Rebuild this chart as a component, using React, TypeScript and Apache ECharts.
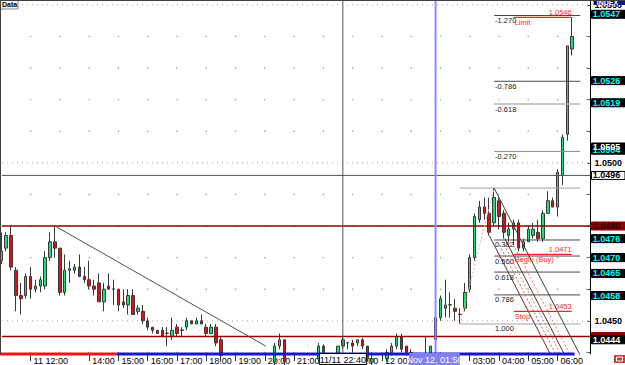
import React, { useEffect, useRef } from 'react';
import * as echarts from 'echarts';

// One candle per 10-minute bar, starting 11 Nov 11:00. [open, close, low, high]
const candles: number[][] = [
  [1.0469, 1.0472, 1.0468, 1.0478], [1.0473, 1.0477, 1.0472, 1.0478], [1.0477, 1.0467, 1.0466, 1.0480],
  [1.0466, 1.0458, 1.0453, 1.0467], [1.0458, 1.0457, 1.0452, 1.0462], [1.0458, 1.0464, 1.0457, 1.0465],
  [1.0464, 1.0460, 1.0457, 1.0467], [1.0460, 1.0461, 1.0459, 1.0463], [1.0461, 1.0463, 1.0459, 1.0464],
  [1.0461, 1.0470, 1.0460, 1.0472], [1.0470, 1.0475, 1.0469, 1.0478], [1.0475, 1.0473, 1.0470, 1.0480],
  [1.0473, 1.0459, 1.0458, 1.0473], [1.0459, 1.0466, 1.0458, 1.0471], [1.0466, 1.04665, 1.0462, 1.0469],
  [1.0466, 1.0467, 1.0465, 1.0468], [1.0467, 1.0464, 1.0464, 1.0471], [1.0464, 1.0463, 1.0462, 1.0467],
  [1.0463, 1.0461, 1.0460, 1.0469], [1.0461, 1.0460, 1.0458, 1.0463], [1.0462, 1.0456, 1.0456, 1.0465],
  [1.0456, 1.0460, 1.0453, 1.0462], [1.0461, 1.0460, 1.0460, 1.0465], [1.0460, 1.04601, 1.0455, 1.0463],
  [1.0460, 1.0455, 1.0453, 1.0460], [1.0456, 1.0455, 1.0454, 1.0460], [1.0455, 1.0458, 1.0452, 1.0460],
  [1.0458, 1.0452, 1.0452, 1.0460], [1.0453, 1.0454, 1.0452, 1.0455], [1.0453, 1.0450, 1.0449, 1.0455],
  [1.0450, 1.0448, 1.0447, 1.0451], [1.0448, 1.0447, 1.0446, 1.0448], [1.0447, 1.0446, 1.0446, 1.0447],
  [1.0447, 1.0445, 1.0445, 1.0448], [1.0446, 1.04461, 1.0442, 1.0448], [1.0445, 1.0447, 1.0444, 1.0451],
  [1.0448, 1.0446, 1.0445, 1.0449], [1.0447, 1.04471, 1.0445, 1.0448], [1.0448, 1.0450, 1.0447, 1.0451],
  [1.0450, 1.0449, 1.0449, 1.0450], [1.0449, 1.0450, 1.0449, 1.0451], [1.0450, 1.0449, 1.0449, 1.0452],
  [1.0448, 1.0446, 1.0445, 1.0449], [1.0446, 1.0448, 1.0446, 1.0449], [1.0448, 1.0443, 1.0442, 1.0449],
  [1.0444, 1.0439, 1.0437, 1.0445], [1.0439, 1.0436, 1.0434, 1.0439], [1.0436, 1.0433, 1.0431, 1.0437],
  [1.0433, 1.0430, 1.0428, 1.0434], [1.0430, 1.0432, 1.0427, 1.0433], [1.0432, 1.0429, 1.0426, 1.0433],
  [1.0429, 1.0431, 1.0427, 1.0433], [1.0431, 1.0434, 1.0430, 1.0436], [1.0434, 1.0436, 1.0433, 1.0438],
  [1.0436, 1.0435, 1.0433, 1.0438], [1.0435, 1.0437, 1.0434, 1.0439], [1.0437, 1.0442, 1.0436, 1.0443],
  [1.0442, 1.0444, 1.0441, 1.0446], [1.0444, 1.0437, 1.0436, 1.0444], [1.0437, 1.0435, 1.0433, 1.0438],
  [1.0435, 1.0436, 1.0433, 1.0438], [1.0436, 1.0434, 1.0432, 1.0437], [1.0434, 1.0435, 1.0432, 1.0437],
  [1.0435, 1.0436, 1.0433, 1.0438], [1.0436, 1.0438, 1.0435, 1.0439], [1.0438, 1.0442, 1.0437, 1.0443],
  [1.0442, 1.0438, 1.0437, 1.04425], [1.0438, 1.0436, 1.0435, 1.0439], [1.0436, 1.0438, 1.0435, 1.0439],
  [1.0438, 1.0442, 1.0437, 1.0442], [1.0442, 1.0444, 1.0441, 1.0445], [1.0443, 1.04431, 1.0441, 1.0443],
  [1.0443, 1.0442, 1.0440, 1.0444], [1.0443, 1.0444, 1.0442, 1.0444], [1.0444, 1.0442, 1.0441, 1.04446],
  [1.0442, 1.0438, 1.0437, 1.0442], [1.0437, 1.0438, 1.0436, 1.0440], [1.0438, 1.0436, 1.0435, 1.0439],
  [1.0436, 1.0437, 1.0434, 1.0439], [1.0438, 1.0440, 1.0437, 1.0441], [1.0440, 1.0442, 1.0439, 1.0443],
  [1.0442, 1.0445, 1.0441, 1.0446], [1.0445, 1.0441, 1.0440, 1.0446], [1.0442, 1.0440, 1.0439, 1.0442],
  [1.0440, 1.0439, 1.0438, 1.0441], [1.0439, 1.0437, 1.0436, 1.0439], [1.0437, 1.0438, 1.0436, 1.0439],
  [1.0438, 1.04381, 1.0437, 1.0445], [1.0438, 1.0442, 1.0437, 1.0442], [1.0444, 1.0451, 1.0444, 1.0452],
  [1.0451, 1.0457, 1.0450, 1.0458], [1.0454, 1.0455, 1.0451, 1.0463], [1.0455, 1.04551, 1.0451, 1.0459],
  [1.0454, 1.0453, 1.0450, 1.0457], [1.0452, 1.04521, 1.0449, 1.0454], [1.0454, 1.0459, 1.0453, 1.0462],
  [1.0460, 1.0470, 1.0459, 1.0471], [1.0470, 1.0483, 1.0469, 1.0484], [1.0482, 1.0486, 1.0481, 1.0488],
  [1.0486, 1.0484, 1.0482, 1.0489], [1.0484, 1.0478, 1.0477, 1.0489], [1.0481, 1.0489, 1.0480, 1.0492],
  [1.0488, 1.0483, 1.0479, 1.0489], [1.0484, 1.0478, 1.0476, 1.0485], [1.0477, 1.0479, 1.0475, 1.0481],
  [1.0479, 1.0481, 1.0474, 1.0482], [1.0481, 1.0473, 1.0472, 1.0482], [1.0473, 1.0475, 1.0472, 1.0476],
  [1.0475, 1.0479, 1.0475, 1.0480], [1.0477, 1.0479, 1.0476, 1.0481], [1.0478, 1.0476, 1.0475, 1.0482],
  [1.0476, 1.0484, 1.0475, 1.0485], [1.0484, 1.0488, 1.0484, 1.0491], [1.0488, 1.0486, 1.0486, 1.0489],
  [1.0486, 1.0497, 1.0483, 1.0498], [1.0496, 1.0508, 1.0493, 1.0509], [1.0509, 1.0537, 1.0507, 1.0537],
  [1.0536, 1.0540, 1.0534, 1.0546],
];

// time axis: bar index -> label
const timeBars = [6, 18, 24, 30, 36, 42, 48, 54, 60, 72, 78, 96, 102, 108, 114];
const timeTexts = ['11 12:00', '14:00', '15:00', '16:00', '17:00', '18:00', '19:00', '20:00', '21:00', '23:00', '12 00:00', '03:00', '04:00', '05:00', '06:00'];

const axisPrices = [1.045, 1.05, 1.055];
const tickPrices = [1.044, 1.045, 1.046, 1.047, 1.048, 1.049, 1.05, 1.051, 1.052, 1.053, 1.054, 1.055];
const dotPrices = [1.044, 1.046, 1.047, 1.048, 1.049, 1.051, 1.052, 1.053, 1.054];
const hourBars = [0, 6, 12, 18, 24, 30, 36, 42, 48, 54, 60, 66, 72, 78, 84, 90, 96, 102, 108, 114, 120];

// Fibonacci retracement
const fibLowBar = 94;
const fibHighBar = 101;
const fibEndBar = 118.65;
const fibLow = 1.0449;
const fibHigh = 1.0492;
const fibLevels = [-1.27, -0.786, -0.618, -0.27, 0, 0.382, 0.5, 0.618, 0.786, 1];
const fibTexts = ['-1.270', '-0.786', '-0.618', '-0.270', '', '0.382', '0.500', '0.618', '0.786', '1.000'];

// pending order levels
const orderPrices = [1.0546, 1.0471, 1.0453];
const orderNames = ['Limit', 'Begin (Buy)', 'Stop'];
const orderStartBar = 105;
const orderEndBar = 116.9;

const supportPrices = [1.048, 1.0445];
const crossBar = 70;
const crossPrice = 1.0496;
const crossText = '11/11 22:40';
const markerBar = 89;
const markerText = 'Nov 12, 01:50';
const trendStart = [11, 1.048];
const trendEnd = [54.2, 1.0442];

// down-sloping channel (bar, price at start)
const channelSlope = -0.0003;
const channelSolid = [[101, 1.0492], [100, 1.0477], [103.2, 1.0476]];
const channelRed = [[101.1, 1.0474], [103.1, 1.0474], [105, 1.0474]];
const channelGray = [[102.1, 1.0474]];

// bottom session strip (from bar, to bar)
const stripRed = [-0.3, 23.6];
const stripBlue = [23.6, 117.5];

// right-hand price tags
const tagPrices = [1.0547, 1.0526, 1.0519, 1.0504, 1.0505, 1.0496, 1.048, 1.0476, 1.047, 1.0465, 1.0458, 1.0445, 1.0444];
const tagKinds = ['cyan', 'cyan', 'cyan', 'cyan', 'white', 'boxed', 'maroon', 'cyan', 'cyan', 'cyan', 'cyan', 'maroon', 'white'];

const xMin = 0.14;
const xMax = 120.75;
const yMin = 1.04395;
const yMax = 1.05512;
const FONT = '"Liberation Sans", Arial, sans-serif';

function seg(data: any[], color: string, width: number, type: any = 'solid', z = 3, clip = true) {
  return {
    type: 'line', data, symbol: 'none', showSymbol: false, silent: true, clip, z,
    lineStyle: { color, width, type }, animation: false,
  };
}

function channelLine(s: number[]) {
  const endP = yMin - 0.0004;
  const endB = s[0] + (endP - s[1]) / channelSlope;
  return [[s[0], s[1]], [endB, endP]];
}

function buildOption(): any {
  const fibPrice = (l: number) => fibHigh - l * (fibHigh - fibLow);
  const series: any[] = [];
  series.push({
    type: 'scatter', silent: true, z: 1, symbolSize: 1.6,
    itemStyle: { color: '#9a9a9a' },
    data: hourBars.flatMap((b) => dotPrices.map((p) => [b, p])),
  });
  axisPrices.forEach((p) => series.push(seg([[xMin, p], [xMax, p]], '#c49a9a', 1, [1, 4], 1)));
  series.push({
    type: 'candlestick', z: 2, clip: true, barWidth: 3,
    encode: { x: 0, y: [1, 2, 3, 4] },
    data: candles.map((c, i) => [i, c[0], c[1], c[2], c[3]]),
    itemStyle: {
      color: '#19e070', color0: '#e01010',
      borderColor: '#3a3a3a', borderColor0: '#3a3a3a', borderColorDoji: '#3a3a3a', borderWidth: 1,
    },
  });
  supportPrices.forEach((p) => series.push(seg([[xMin, p], [xMax, p]], '#9a0000', 1.5)));
  series.push(seg([[xMin, crossPrice], [xMax, crossPrice]], '#555555', 1));
  series.push(seg([[crossBar, yMin], [crossBar, yMax]], '#555555', 1));
  series.push(seg([[markerBar, yMin], [markerBar, yMax]], '#8c8cff', 2));
  series.push(seg([trendStart, trendEnd], '#505050', 1));
  fibLevels.forEach((l) => {
    const p = fibPrice(l);
    const anchor = l === 0 || l === 1;
    const start = anchor ? fibLowBar : fibHighBar;
    const color = anchor ? '#a0a0a0' : l === -0.618 ? '#b4b4b4' : l === -0.27 ? '#8a8a8a' : '#4a4a4a';
    series.push(seg([[start, p], [fibEndBar, p]], color, l === -0.618 ? 1.5 : 1));
  });
  series.push(seg([[fibLowBar, fibLow], [fibHighBar, fibHigh]], '#e8a8a8', 1, [2, 2]));
  orderPrices.forEach((p) => series.push(seg([[orderStartBar, p], [orderEndBar, p]], '#ff2020', 1.3, 'solid', 4)));
  channelSolid.forEach((s) => series.push(seg(channelLine(s), '#3c3c3c', 1)));
  channelRed.forEach((s) => series.push(seg(channelLine(s), '#ff6a6a', 1, [2, 2])));
  channelGray.forEach((s) => series.push(seg(channelLine(s), '#7a7a7a', 1, [2, 2])));
  series.push(seg([[stripRed[0], yMin], [stripRed[1], yMin]], '#ee1515', 3, 'solid', 6, false));
  series.push(seg([[stripBlue[0], yMin], [stripBlue[1], yMin]], '#1818c8', 3, 'solid', 6, false));

  return {
    animation: false,
    backgroundColor: '#ffffff',
    grid: { left: 2, right: 32, top: 1, bottom: 10 },
    xAxis: {
      type: 'value', min: xMin, max: xMax,
      axisLine: { show: false },
      splitLine: { show: false },
      axisTick: { show: true, customValues: timeBars, length: 7, lineStyle: { color: '#333' } },
      axisLabel: {
        customValues: timeBars,
        formatter: (v: number) => {
          const k = timeBars.indexOf(Math.round(v));
          return k >= 0 ? timeTexts[k] : '';
        },
        align: 'left', padding: [0, 0, 0, 3], margin: 2,
        fontSize: 9, color: '#000', fontFamily: FONT,
      },
    },
    yAxis: {
      type: 'value', position: 'right', min: yMin, max: yMax,
      axisLine: { show: true, lineStyle: { color: '#000', width: 1 } },
      axisTick: { show: true, inside: true, length: 3, customValues: tickPrices, lineStyle: { color: '#444' } },
      splitLine: { show: false },
      axisLabel: {
        customValues: axisPrices,
        formatter: (v: number) => v.toFixed(4),
        fontSize: 9, fontWeight: 'bold', color: '#000', margin: 4, fontFamily: FONT,
      },
    },
    series,
  };
}

function buildGraphics(chart: any): any[] {
  const px = (b: number, p: number) => chart.convertToPixel({ gridIndex: 0 }, [b, p]);
  const g: any[] = [];
  const fibPrice = (l: number) => fibHigh - l * (fibHigh - fibLow);
  const [rightX] = px(xMax, yMin);
  const [, bottomY] = px(xMin, yMin);
  const [leftX, topY] = px(xMin, yMax);

  // borders
  g.push({ type: 'line', z: 50, shape: { x1: 0, y1: 0.5, x2: 625, y2: 0.5 }, style: { stroke: '#404040', lineWidth: 1 } });
  g.push({ type: 'line', z: 50, shape: { x1: leftX - 1.5, y1: topY, x2: leftX - 1.5, y2: bottomY }, style: { stroke: '#404040', lineWidth: 1 } });

  // fib labels
  fibLevels.forEach((l, k) => {
    if (!fibTexts[k]) return;
    const [x, y] = px(fibHighBar, fibPrice(l));
    g.push({ type: 'text', z: 20, x: x + 1, y: y + 1, style: { text: fibTexts[k], fill: '#222', font: `7.5px ${FONT}`, align: 'left', verticalAlign: 'top' } });
  });

  // order labels
  orderPrices.forEach((p, k) => {
    const [x1, y] = px(orderStartBar, p);
    const [x2] = px(orderEndBar, p);
    g.push({ type: 'text', z: 20, x: x1 + 1, y: y + 1, style: { text: orderNames[k], fill: '#ff2a2a', font: `7.5px ${FONT}`, align: 'left', verticalAlign: 'top' } });
    g.push({ type: 'text', z: 20, x: x2, y: y - 0.5, style: { text: p.toFixed(4), fill: '#ff2a2a', font: `7.5px ${FONT}`, align: 'right', verticalAlign: 'bottom' } });
  });

  // price tags on the right axis
  tagPrices.forEach((p, k) => {
    const [, y] = px(xMax, p);
    const kind = tagKinds[k];
    const bg = kind === 'maroon' ? '#8a0000' : kind === 'boxed' ? '#ffffff' : '#000000';
    const fg = kind === 'cyan' ? '#00ffff' : kind === 'white' ? '#ffffff' : kind === 'maroon' ? '#2a0000' : '#000000';
    g.push({
      type: 'rect', z: 30, shape: { x: rightX + 1, y: y - 4, width: 625 - rightX - 1, height: 8 },
      style: { fill: bg, stroke: kind === 'boxed' ? '#000' : bg, lineWidth: 1 },
    });
    if (p === 1.0445) return;
    g.push({ type: 'text', z: 31, x: rightX + 16, y: y, style: { text: p.toFixed(4), fill: fg, font: `bold 9px ${FONT}`, align: 'center', verticalAlign: 'middle' } });
  });

  // crosshair time boxes
  const [cx] = px(crossBar, yMin);
  g.push({ type: 'rect', z: 30, shape: { x: cx - 23.5, y: bottomY - 0.5, width: 47, height: 11 }, style: { fill: '#ffffff', stroke: '#000', lineWidth: 1 } });
  g.push({ type: 'text', z: 31, x: cx, y: bottomY + 5.5, style: { text: crossText, fill: '#000', font: `9px ${FONT}`, align: 'center', verticalAlign: 'middle' } });
  const [mx] = px(markerBar, yMin);
  g.push({ type: 'rect', z: 30, shape: { x: mx - 26, y: bottomY - 0.5, width: 50, height: 11 }, style: { fill: '#8080f0', stroke: '#8080f0', lineWidth: 1 } });
  g.push({ type: 'text', z: 31, x: mx - 1, y: bottomY + 5.5, style: { text: markerText, fill: '#ffffff', font: `9px ${FONT}`, align: 'center', verticalAlign: 'middle' } });

  // "Data" badge, INDEX badge, corner icon
  g.push({ type: 'rect', z: 40, shape: { x: 0, y: 0, width: 18, height: 9 }, style: { fill: '#f4f4f4', stroke: '#8a8a8a', lineWidth: 1 } });
  g.push({ type: 'text', z: 41, x: 2, y: 1, style: { text: 'Data', fill: '#000', font: `bold 7px ${FONT}`, align: 'left', verticalAlign: 'top' } });
  g.push({ type: 'rect', z: 40, shape: { x: rightX + 3, y: 0, width: 625 - rightX - 3, height: 5 }, style: { fill: '#12128a' } });
  g.push({ type: 'text', z: 41, x: rightX + 17, y: 2, style: { text: 'INDEX', fill: '#ffffff', font: `bold 7px ${FONT}`, align: 'center', verticalAlign: 'middle' } });
  g.push({ type: 'rect', z: 40, shape: { x: 614, y: bottomY + 1, width: 11, height: 8 }, style: { fill: '#d03a3a' } });
  g.push({ type: 'rect', z: 41, shape: { x: 616.5, y: bottomY + 3, width: 6, height: 4 }, style: { fill: 'none', stroke: '#ffffff', lineWidth: 1 } });
  return g;
}

export default function App() {
  const ref = useRef<HTMLDivElement>(null);
  useEffect(() => {
    if (!ref.current) return;
    const chart = echarts.init(ref.current, null, { renderer: 'svg' });
    chart.setOption(buildOption());
    chart.setOption({ graphic: buildGraphics(chart) });
    return () => chart.dispose();
  }, []);
  return <div ref={ref} style={{ position: 'fixed', left: 0, top: 0, width: 625, height: 365, background: '#ffffff' }} />;
}
